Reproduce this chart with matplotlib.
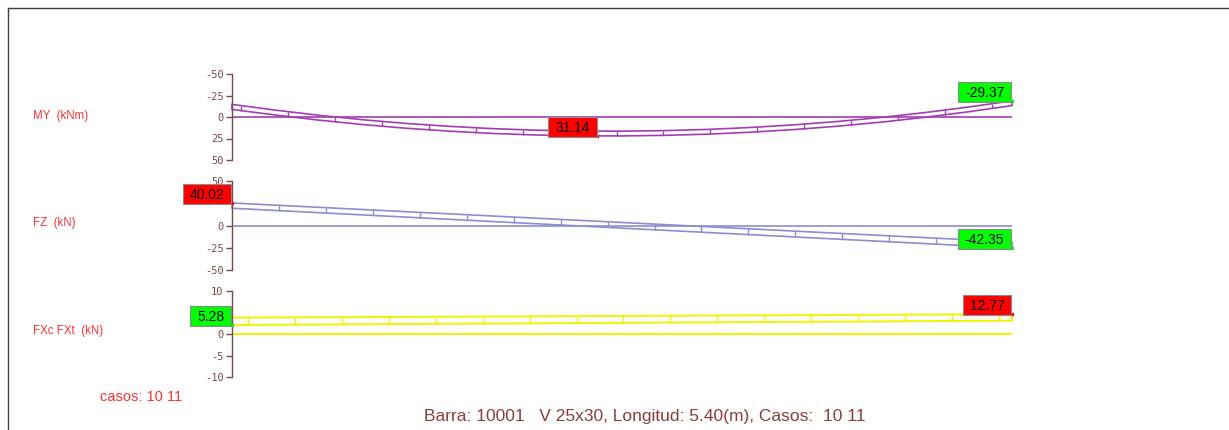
#!/usr/bin/env python3
# -*- coding: utf-8 -*-

import numpy as np
import matplotlib
matplotlib.use('Agg')
import matplotlib.pyplot as plt
from matplotlib.lines import Line2D
from matplotlib.path import Path

# beam stations (m)
beam_len = 5.40
x_my = [0.0, 0.3, 0.6, 0.9, 1.2, 1.5, 1.8, 2.1, 2.4, 2.7, 3.0,
        3.3, 3.6, 3.9, 4.2, 4.5, 4.8, 5.1, 5.4]

# MY (kNm), two load cases
my_case_a = [-14.7, -8.0, -2.0, 3.1, 7.4, 10.8, 13.5, 15.3, 16.3, 16.5, 15.8,
             14.4, 12.1, 9.0, 5.1, 0.4, -5.2, -11.6, -18.8]
my_case_b = [-8.8, -2.3, 3.6, 8.7, 13.0, 16.4, 19.1, 20.9, 21.9, 22.0, 21.3,
             19.9, 17.6, 14.5, 10.6, 5.9, 0.3, -6.1, -13.3]

# FZ (kN)
x_fz = [0.0, 5.4]
fz_case_a = [25.3, -18.5]
fz_case_b = [19.4, -25.3]

# FXc FXt (kN)
x_fx = [0.0, 5.4]
fx_case_a = [3.8, 4.6]
fx_case_b = [2.1, 3.1]

# extreme value labels: (x, which curve, text, colour)
my_labels = [(2.53, 'b', '31.14', 'red'), (5.4, 'a', '-29.37', 'lime')]
fz_labels = [(0.0, 'a', '40.02', 'red'), (5.4, 'b', '-42.35', 'lime')]
fx_labels = [(0.0, 'b', '5.28', 'lime'), (5.4, 'a', '12.77', 'red')]

# axis ticks; labels hidden under the value boxes are left blank
my_ticks = [-50, -25, 0, 25, 50]
my_tick_labels = ['-50', '-25', '0', '25', '50']
fz_ticks = [50, 25, 0, -25, -50]
fz_tick_labels = ['50', '', '0', '-25', '-50']
fx_ticks = [10, 5, 0, -5, -10]
fx_tick_labels = ['10', '', '0', '-5', '-10']

W, H = 1229, 430
AX_COL = '#7a4848'
LBL_COL = '#ff3030'

# label box padding, in font sizes
PAD_H, PAD_TOP, PAD_BOT = 0.5, 0.3, 0.12

plt.rcParams['axes.unicode_minus'] = False
fig = plt.figure(figsize=(W / 100, H / 100), dpi=100)
fig.patch.set_facecolor('white')


def label_box(x0, y0, width, height, mutation_size):
    # rectangle with more room left/right than above/below
    ph = PAD_H * mutation_size
    pt = PAD_TOP * mutation_size
    pb = PAD_BOT * mutation_size
    x1, y1 = x0 + width + ph, y0 + height + pt
    x0, y0 = x0 - ph, y0 - pb
    return Path([(x0, y0), (x1, y0), (x1, y1), (x0, y1), (x0, y0)], closed=True)


def make_axes(top_px, bot_px, ylim, ticks, tick_labels):
    ax = fig.add_axes([232 / W, 1 - bot_px / H, 780 / W, (bot_px - top_px) / H])
    ax.set_xlim(0, beam_len)
    ax.set_ylim(*ylim)
    ax.set_facecolor('none')
    for s in ['top', 'right', 'bottom']:
        ax.spines[s].set_visible(False)
    ax.spines['left'].set_color(AX_COL)
    ax.spines['left'].set_linewidth(1.0)
    ax.set_xticks([])
    ax.set_yticks(ticks)
    ax.set_yticklabels(tick_labels, family='DejaVu Sans Mono',
                       fontsize=7.5, color=AX_COL)
    ax.tick_params(axis='y', direction='out', length=4, width=1,
                   color=AX_COL, pad=2)
    return ax


def draw_band(ax, xs, ya, yb, color, tick_start, lw=1.2):
    ax.axhline(0, color=color, lw=lw)
    ax.plot(xs, ya, color=color, lw=lw, clip_on=False)
    ax.plot(xs, yb, color=color, lw=lw, clip_on=False)
    ax.vlines([xs[0], xs[-1]], [ya[0], ya[-1]], [yb[0], yb[-1]],
              color=color, lw=lw, clip_on=False)
    tx = np.arange(tick_start, beam_len, 0.325)
    ax.vlines(tx, np.interp(tx, xs, ya), np.interp(tx, xs, yb),
              color=color, lw=1.0)


def add_labels(ax, xs, ya, yb, labels):
    fs = 10
    for xv, which, txt, fc in labels:
        yv = np.interp(xv, xs, ya if which == 'a' else yb)
        ax.plot([xv], [yv], 's', ms=2, color=fc, clip_on=False, zorder=6)
        ax.annotate(txt, xy=(xv, yv),
                    xytext=(-fs * PAD_H - 0.5, fs * PAD_BOT - 0.5),
                    textcoords='offset points', ha='right', va='bottom',
                    fontsize=fs, family='Liberation Sans', color='black',
                    bbox=dict(boxstyle=label_box, fc=fc, ec='#8a8a8a', lw=0.8),
                    annotation_clip=False, zorder=7)


# MY panel (negative up)
ax1 = make_axes(74, 160, (50, -50), my_ticks, my_tick_labels)
draw_band(ax1, x_my, my_case_a, my_case_b, '#a43cb4', 0.062)
add_labels(ax1, x_my, my_case_a, my_case_b, my_labels)

# FZ panel
ax2 = make_axes(181, 270, (-50, 50), fz_ticks, fz_tick_labels)
draw_band(ax2, x_fz, fz_case_a, fz_case_b, '#8c8cd2', 0.325)
add_labels(ax2, x_fz, fz_case_a, fz_case_b, fz_labels)

# FX panel
ax3 = make_axes(291, 377, (-10, 10), fx_ticks, fx_tick_labels)
draw_band(ax3, x_fx, fx_case_a, fx_case_b, '#f2f200', 0.11, lw=1.4)
add_labels(ax3, x_fx, fx_case_a, fx_case_b, fx_labels)

# side labels
for txt, ypx in [('MY  (kNm)', 116), ('FZ  (kN)', 223), ('FXc FXt  (kN)', 331)]:
    fig.text(33 / W, 1 - ypx / H, txt, fontsize=8.3, color=LBL_COL,
             family='Liberation Sans', ha='left', va='center')
fig.text(100 / W, 1 - 397 / H, 'casos: 10 11', fontsize=10.5, color=LBL_COL,
         family='Liberation Sans', ha='left', va='center')
fig.text(645 / W, 1 - 417 / H,
         'Barra: 10001   V 25x30, Longitud: 5.40(m), Casos:  10 11',
         fontsize=12.5, color='#8c3c3c', family='Liberation Sans',
         ha='center', va='center')

# window frame
fig.add_artist(Line2D([8 / W, 1], [1 - 8 / H, 1 - 8 / H], color='#404040', lw=1))
fig.add_artist(Line2D([8 / W, 8 / W], [0, 1 - 8 / H], color='#404040', lw=1))

fig.savefig('out.png', dpi=100)
plt.close(fig)
